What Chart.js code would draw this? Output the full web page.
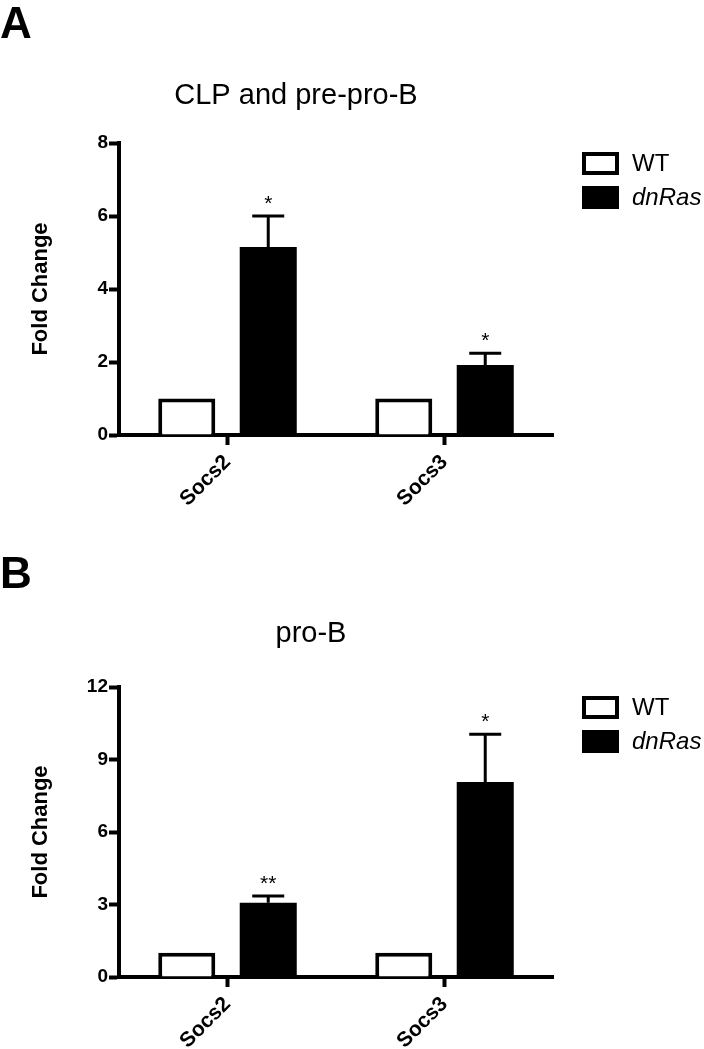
<!DOCTYPE html>
<html>
<head>
<meta charset="utf-8">
<script src="https://cdn.jsdelivr.net/npm/chart.js@4.4.1/dist/chart.umd.min.js"></script>
<style>
  body { margin: 0; background: #fff; }
  .panel { position: absolute; left: 0; width: 704px; }
</style>
</head>
<body>
<div class="panel" style="top:0"><canvas id="chartA" width="704" height="525"></canvas></div>
<div class="panel" style="top:525px"><canvas id="chartB" width="704" height="524"></canvas></div>
<script>
// data
const categories = ['Socs2', 'Socs3'];
const seriesNames = ['WT', 'dnRas'];

// panel A: CLP and pre-pro-B
const wtA = [1, 1];
const dnRasA = [5.15, 1.92];
const errA = [0.85, 0.32];
const sigA = ['*', '*'];
const ticksA = [0, 2, 4, 6, 8];

// panel B: pro-B
const wtB = [1, 1];
const dnRasB = [3.07, 8.07];
const errB = [0.28, 1.97];
const sigB = ['**', '*'];
const ticksB = [0, 3, 6, 9, 12];

const FONT = '"Liberation Sans", Arial, Helvetica, sans-serif';

// error bars (upper only) + significance stars on the dnRas bars
const errorBarPlugin = {
    id: 'errorBars',
    afterDatasetsDraw(chart, args, opts) {
        const ctx = chart.ctx;
        const y = chart.scales.y;
        const meta = chart.getDatasetMeta(1);
        ctx.save();
        ctx.strokeStyle = '#000';
        ctx.lineWidth = 3;
        meta.data.forEach((bar, i) => {
            const v = chart.data.datasets[1].data[i];
            const top = y.getPixelForValue(v + opts.errors[i]);
            ctx.beginPath();
            ctx.moveTo(bar.x, bar.y);
            ctx.lineTo(bar.x, top);
            ctx.moveTo(bar.x - 16, top);
            ctx.lineTo(bar.x + 16, top);
            ctx.stroke();
            ctx.fillStyle = '#000';
            ctx.font = '21px ' + FONT;
            ctx.textAlign = 'center';
            ctx.textBaseline = 'alphabetic';
            ctx.fillText(opts.sig[i], bar.x, top - 6);
        });
        ctx.restore();
    }
};

// legend at the right of the plot
const sideLegendPlugin = {
    id: 'sideLegend',
    afterDraw(chart) {
        const { ctx, chartArea } = chart;
        const x = chartArea.right + 29;
        ctx.save();
        chart.data.datasets.forEach((ds, i) => {
            const top = chartArea.top + 9 + i * 34;
            ctx.fillStyle = ds.backgroundColor;
            ctx.fillRect(x, top, 37, 23);
            if (ds.borderWidth) {
                ctx.strokeStyle = ds.borderColor;
                ctx.lineWidth = 4;
                ctx.strokeRect(x + 2, top + 2, 33, 19);
            }
            ctx.fillStyle = '#000';
            ctx.font = (i === 1 ? 'italic ' : '') + '24px ' + FONT;
            ctx.textAlign = 'left';
            ctx.textBaseline = 'middle';
            ctx.fillText(ds.label, x + 50, top + 12);
        });
        ctx.restore();
    }
};

// panel letter and chart title
const panelTextPlugin = {
    id: 'panelText',
    afterDraw(chart, args, opts) {
        const ctx = chart.ctx;
        ctx.save();
        ctx.fillStyle = '#000';
        ctx.textBaseline = 'alphabetic';
        ctx.font = 'bold 44px ' + FONT;
        ctx.textAlign = 'left';
        ctx.fillText(opts.letter, 0, opts.letterY);
        ctx.font = '29px ' + FONT;
        ctx.textAlign = 'center';
        ctx.fillText(opts.title, opts.titleX, opts.titleY);
        ctx.restore();
    }
};

function makeChart(id, wt, dn, err, sig, ticks, panel, padTop, xHeight) {
    const ctx = document.getElementById(id).getContext('2d');
    return new Chart(ctx, {
        type: 'bar',
        data: {
            labels: categories,
            datasets: [
                {
                    label: seriesNames[0],
                    data: wt,
                    backgroundColor: '#fff',
                    borderColor: '#000',
                    borderWidth: 4,
                    categoryPercentage: 0.751,
                    barPercentage: 0.70,
                },
                {
                    label: seriesNames[1],
                    data: dn,
                    backgroundColor: '#000',
                    borderColor: '#000',
                    borderWidth: 0,
                    categoryPercentage: 0.751,
                    barPercentage: 0.70,
                }
            ]
        },
        options: {
            responsive: false,
            animation: false,
            layout: { padding: { top: padTop, right: 151, left: 0, bottom: 0 } },
            scales: {
                x: {
                    afterFit: s => { s.height = xHeight; },
                    border: { display: true, width: 4, color: '#000' },
                    grid: {
                        offset: false,
                        drawOnChartArea: false,
                        tickLength: 10,
                        tickWidth: 4,
                        tickColor: '#000'
                    },
                    ticks: {
                        color: '#000',
                        font: { family: FONT, size: 21, weight: 'bold' },
                        maxRotation: 45,
                        minRotation: 45,
                        padding: 5
                    }
                },
                y: {
                    min: ticks[0],
                    max: ticks[ticks.length - 1],
                    afterBuildTicks: s => { s.ticks = ticks.map(v => ({ value: v })); },
                    afterFit: s => { s.width = 119; },
                    border: { display: true, width: 4, color: '#000' },
                    grid: {
                        drawOnChartArea: false,
                        tickLength: 10,
                        tickWidth: 4,
                        tickColor: '#000'
                    },
                    ticks: {
                        color: '#000',
                        font: { family: FONT, size: 19, weight: 'bold' },
                        padding: 1
                    },
                    title: {
                        display: true,
                        text: 'Fold Change',
                        color: '#000',
                        font: { family: FONT, size: 22, weight: 'bold' },
                        padding: { top: 28, bottom: 0 }
                    }
                }
            },
            plugins: {
                legend: { display: false },
                tooltip: { enabled: false },
                errorBars: { errors: err, sig: sig },
                panelText: panel
            }
        },
        plugins: [errorBarPlugin, sideLegendPlugin, panelTextPlugin]
    });
}

window.addEventListener('DOMContentLoaded', () => {
    makeChart('chartA', wtA, dnRasA, errA, sigA, ticksA,
        { letter: 'A', letterY: 38, title: 'CLP and pre-pro-B', titleX: 296, titleY: 104 }, 143, 90);
    makeChart('chartB', wtB, dnRasB, errB, sigB, ticksB,
        { letter: 'B', letterY: 63, title: 'pro-B', titleX: 311, titleY: 117 }, 162, 72);
});
</script>
</body>
</html>
